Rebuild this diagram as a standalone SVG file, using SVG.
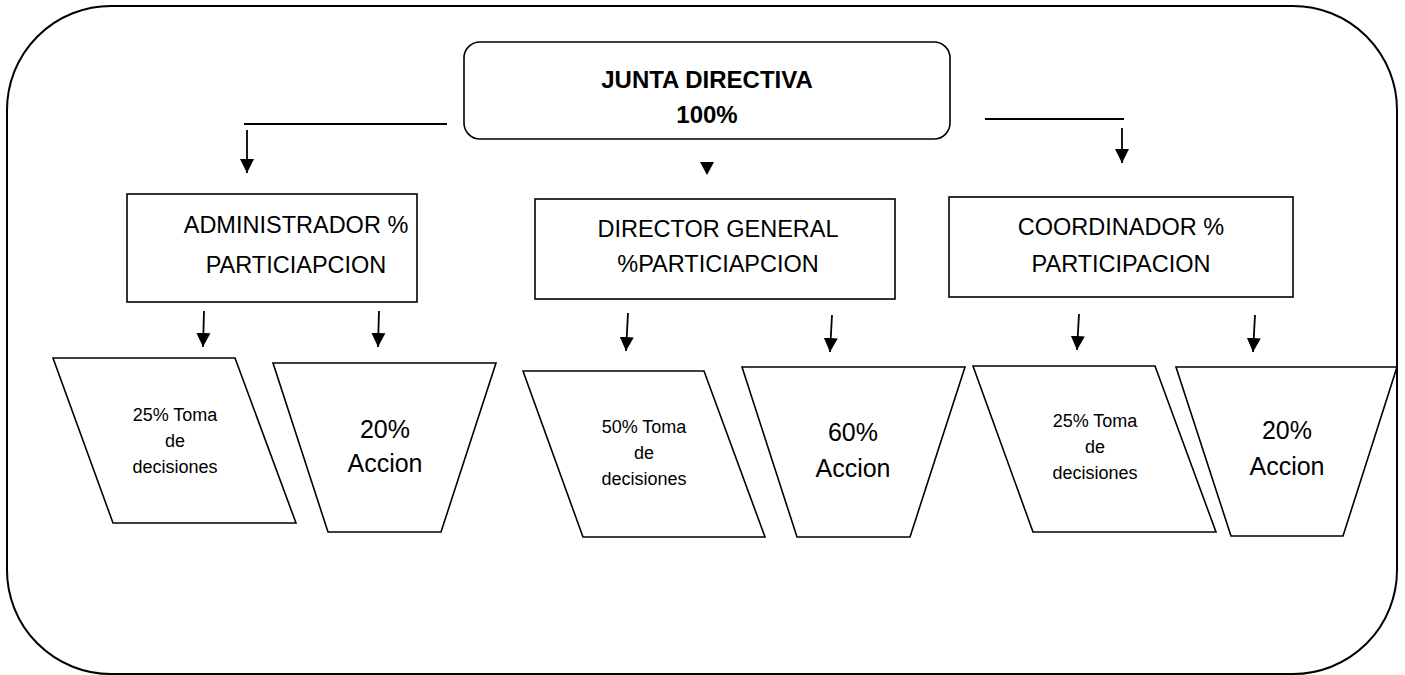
<svg xmlns="http://www.w3.org/2000/svg" width="1405" height="675" viewBox="0 0 1405 675">
<style>
  .frame { fill: none; stroke: #000; stroke-width: 2; }
  .box { fill: #fff; stroke: #000; stroke-width: 1.6; }
  .shape { fill: #fff; stroke: #000; stroke-width: 1.6; stroke-linejoin: miter; }
  .conn { fill: none; stroke: #000; stroke-width: 1.8; }
  .head { fill: #000; stroke: none; }
  text { font-family: "Liberation Sans", Arial, sans-serif; fill: #000; text-anchor: middle; }
  .title { font-size: 24px; font-weight: bold; }
  .lbl { font-size: 23.5px; }
  .small { font-size: 18px; }
  .big { font-size: 25px; }
</style>
<defs>
  <marker id="arr" viewBox="0 0 10 10" refX="10" refY="5" markerWidth="14" markerHeight="15" markerUnits="userSpaceOnUse" orient="auto">
    <path d="M0,0 L10,5 L0,10 Z" fill="#000"/>
  </marker>
</defs>
<rect width="1405" height="675" fill="#fff"/>
<rect class="frame" x="7" y="6" width="1390" height="668" rx="104" ry="104"/>

<g id="connectors">
  <line class="conn" x1="244" y1="124" x2="447" y2="124"/>
  <line class="conn" x1="247" y1="130" x2="247" y2="173" marker-end="url(#arr)"/>
  <path class="head" d="M700,162 L714,162 L707,175 Z"/>
  <line class="conn" x1="985" y1="119" x2="1124" y2="119"/>
  <line class="conn" x1="1122" y1="128" x2="1122" y2="163" marker-end="url(#arr)"/>
  <line class="conn" x1="204" y1="311" x2="203" y2="347" marker-end="url(#arr)"/>
  <line class="conn" x1="379" y1="311" x2="378" y2="347" marker-end="url(#arr)"/>
  <line class="conn" x1="628" y1="313" x2="626" y2="351" marker-end="url(#arr)"/>
  <line class="conn" x1="832" y1="315" x2="830" y2="352" marker-end="url(#arr)"/>
  <line class="conn" x1="1079" y1="314" x2="1077" y2="350" marker-end="url(#arr)"/>
  <line class="conn" x1="1255" y1="315" x2="1253" y2="352" marker-end="url(#arr)"/>
</g>

<g id="junta">
  <rect class="box" x="464" y="42" width="486" height="97" rx="16" ry="16"/>
  <text class="title" x="707" y="88">JUNTA DIRECTIVA</text>
  <text class="title" x="707" y="123">100%</text>
</g>

<g id="administrador">
  <rect class="box" x="127" y="194" width="290" height="108"/>
  <text class="lbl" x="296" y="233">ADMINISTRADOR %</text>
  <text class="lbl" x="296" y="273">PARTICIAPCION</text>
</g>

<g id="director">
  <rect class="box" x="535" y="199" width="360" height="100"/>
  <text class="lbl" x="718" y="237">DIRECTOR GENERAL</text>
  <text class="lbl" x="718" y="272">%PARTICIAPCION</text>
</g>

<g id="coordinador">
  <rect class="box" x="949" y="197" width="344" height="100"/>
  <text class="lbl" x="1121" y="235">COORDINADOR %</text>
  <text class="lbl" x="1121" y="272">PARTICIPACION</text>
</g>

<g id="adm-decisiones">
  <polygon class="shape" points="53,358 235,358 296,523 113,523"/>
  <text class="small" x="175" y="421">25% Toma</text>
  <text class="small" x="175" y="447">de</text>
  <text class="small" x="175" y="473">decisiones</text>
</g>

<g id="adm-accion">
  <polygon class="shape" points="273,363 496,363 441,532 328,532"/>
  <text class="big" x="385" y="438">20%</text>
  <text class="big" x="385" y="472">Accion</text>
</g>

<g id="dir-decisiones">
  <polygon class="shape" points="523,371 704,371 765,537 583,537"/>
  <text class="small" x="644" y="433">50% Toma</text>
  <text class="small" x="644" y="459">de</text>
  <text class="small" x="644" y="485">decisiones</text>
</g>

<g id="dir-accion">
  <polygon class="shape" points="742,367 965,367 910,537 797,537"/>
  <text class="big" x="853" y="441">60%</text>
  <text class="big" x="853" y="477">Accion</text>
</g>

<g id="coo-decisiones">
  <polygon class="shape" points="973,366 1155,366 1216,532 1033,532"/>
  <text class="small" x="1095" y="427">25% Toma</text>
  <text class="small" x="1095" y="453">de</text>
  <text class="small" x="1095" y="479">decisiones</text>
</g>

<g id="coo-accion">
  <polygon class="shape" points="1176,367 1397,367 1343,536 1231,536"/>
  <text class="big" x="1287" y="439">20%</text>
  <text class="big" x="1287" y="475">Accion</text>
</g>
</svg>
